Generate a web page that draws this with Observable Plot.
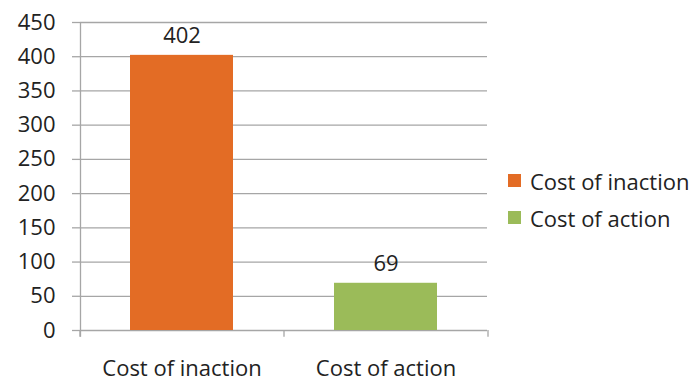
<!DOCTYPE html>
<html>
<head>
<meta charset="utf-8">
<script src="https://cdn.jsdelivr.net/npm/d3@7"></script>
<script src="https://cdn.jsdelivr.net/npm/@observablehq/plot@0.6"></script>
<style>
  html, body { margin: 0; padding: 0; background: #fff; }
  #wrap { position: relative; width: 694px; height: 381px; font-family: "Open Sans", sans-serif; }
  #chart { position: absolute; left: 0; top: 0; }
  #legend { position: absolute; left: 508px; top: 162px; font-size: 22px; color: #222; white-space: nowrap; }
  .item { display: flex; align-items: center; height: 37px; }
  .sw { width: 13px; height: 13px; margin-right: 9px; flex: none; }
</style>
</head>
<body>
<div id="wrap"><div id="chart"></div><div id="legend"></div></div>
<script>
const categories = ["Cost of inaction", "Cost of action"];
const values = [402, 69];
const colors = ["#E36C25", "#9BBB59"];
const yTicks = [0, 50, 100, 150, 200, 250, 300, 350, 400, 450];

const data = categories.map((c, i) => ({category: c, value: values[i], color: colors[i]}));

const grid = "#A6A6A6";
const fs = 22;
const plot = Plot.plot({
  width: 500,
  height: 381,
  marginLeft: 80,
  marginRight: 13,
  marginTop: 22,
  marginBottom: 51,
  style: {fontFamily: "Open Sans, sans-serif", fontSize: fs + "px", color: "#222", background: "#fff", overflow: "visible"},
  x: {domain: categories, paddingInner: 0.495, paddingOuter: 0.245, label: null},
  y: {domain: [0, 450], ticks: yTicks, label: null},
  marks: [
    Plot.gridY(yTicks, {stroke: grid, strokeOpacity: 1, strokeWidth: 1.3}),
    Plot.axisY(yTicks, {tickSize: 8, tickPadding: 17, stroke: grid, strokeWidth: 1.3, fill: "#222", fontSize: fs, label: null}),
    Plot.ruleX(categories, {x: d => d, dx: -102, y1: -10, y2: 0, stroke: grid, strokeWidth: 1.3}),
    Plot.ruleX([categories[categories.length - 1]], {x: d => d, dx: 102, y1: -10, y2: 0, stroke: grid, strokeWidth: 1.3}),
    Plot.ruleX([categories[0]], {x: d => d, dx: -101.5, y1: -10, y2: 450, stroke: grid, strokeWidth: 1.3}),
    Plot.barY(data, {x: "category", y: "value", fill: d => d.color}),
    Plot.text(data, {x: "category", y: "value", text: d => String(d.value), dy: -19, fill: "#222", fontSize: fs}),
    Plot.axisX(categories, {tickSize: 0, tickPadding: 30, fill: "#222", fontSize: fs, label: null})
  ]
});
document.getElementById("chart").appendChild(plot);

const legend = d3.select("#legend");
data.forEach(d => {
  const it = legend.append("div").attr("class", "item");
  it.append("div").attr("class", "sw").style("background", d.color);
  it.append("span").text(d.category);
});
</script>
</body>
</html>
